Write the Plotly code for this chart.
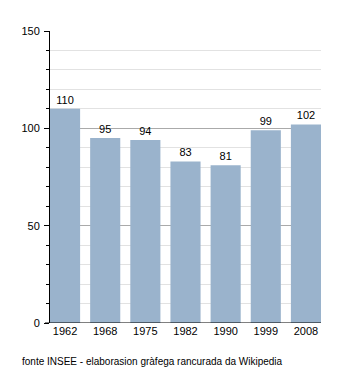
import plotly.graph_objects as go

years = ["1962", "1968", "1975", "1982", "1990", "1999", "2008"]
population = [110, 95, 94, 83, 81, 99, 102]
y_ticks = [0, 50, 100, 150]
caption = "fonte INSEE - elaborasion gràfega rancurada da Wikipedia"

bar_color = "#9ab3cc"
font_family = "Liberation Sans, Arial, sans-serif"

fig = go.Figure(
    go.Bar(
        x=list(range(len(years))),
        y=population,
        width=0.75,
        marker=dict(color=bar_color, line=dict(width=0)),
        text=[str(v) for v in population],
        textposition="outside",
        textfont=dict(size=11, color="black", family=font_family),
        cliponaxis=False,
    )
)

fig.update_layout(
    width=350,
    height=373,
    margin=dict(l=50, r=29, t=31, b=50),
    paper_bgcolor="white",
    plot_bgcolor="white",
    showlegend=False,
    font=dict(family=font_family, size=11, color="black"),
    xaxis=dict(
        range=[-0.375, len(years) - 0.625],
        tickmode="array",
        tickvals=list(range(len(years))),
        ticktext=years,
        showgrid=False,
        zeroline=False,
        showline=False,
        ticks="",
        tickfont=dict(size=11, color="black"),
        fixedrange=True,
    ),
    yaxis=dict(
        range=[0, 150],
        tickmode="array",
        tickvals=y_ticks,
        showgrid=True,
        gridcolor="#aaaaaa",
        gridwidth=1,
        zeroline=False,
        showline=True,
        linecolor="black",
        linewidth=1,
        ticks="outside",
        ticklen=5,
        tickcolor="black",
        ticklabelstandoff=2,
        tickfont=dict(size=11, color="black"),
        minor=dict(
            dtick=10,
            showgrid=True,
            gridcolor="#e2e2e2",
            gridwidth=1,
            ticks="outside",
            ticklen=3,
            tickcolor="black",
        ),
        fixedrange=True,
    ),
    shapes=[
        dict(
            type="line", xref="paper", yref="y",
            x0=-5 / 271, x1=1, y0=0, y1=0,
            line=dict(color="black", width=1),
        )
    ],
    annotations=[
        dict(
            text=caption, xref="paper", yref="paper",
            x=-30 / 271, y=-38 / 292, xanchor="left", yanchor="middle",
            showarrow=False, font=dict(size=10, color="black"),
        )
    ],
)

fig.write_html("out.html")
